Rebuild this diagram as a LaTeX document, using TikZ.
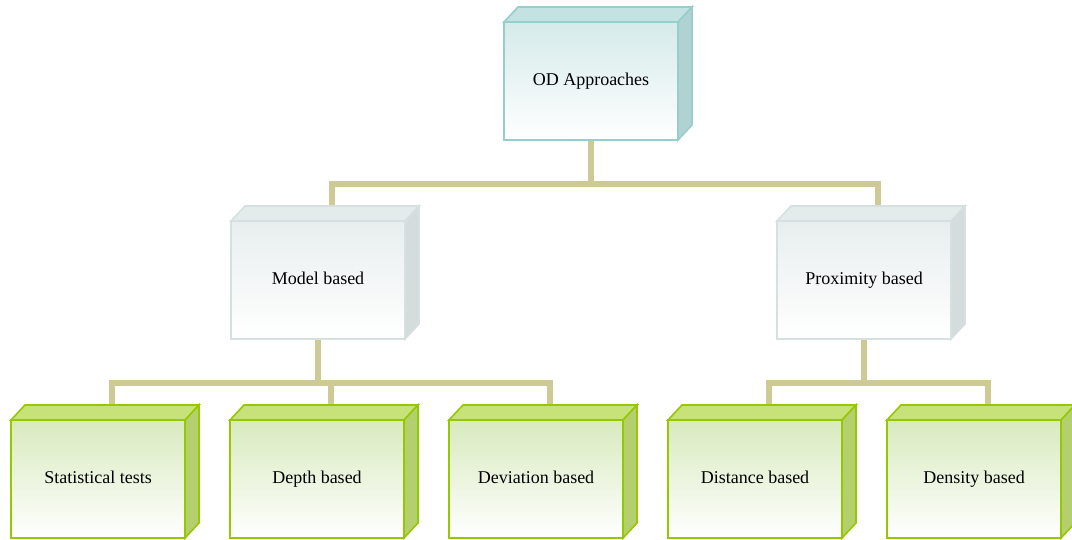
\documentclass[tikz,border=0pt]{standalone}
\usepackage{fontspec}
\setmainfont{Liberation Serif}
\usetikzlibrary{positioning,calc,backgrounds}
\definecolor{tealline}{RGB}{150,205,205}
\definecolor{tealtop}{RGB}{196,226,226}
\definecolor{tealside}{RGB}{176,210,208}
\definecolor{tealfront}{RGB}{213,234,234}
\definecolor{greyline}{RGB}{214,224,224}
\definecolor{greytop}{RGB}{228,235,235}
\definecolor{greyside}{RGB}{212,220,220}
\definecolor{greyfront}{RGB}{232,238,238}
\definecolor{greenline}{RGB}{150,200,0}
\definecolor{greentop}{RGB}{198,226,120}
\definecolor{greenside}{RGB}{180,208,110}
\definecolor{greenfront}{RGB}{216,234,190}
\definecolor{linkcol}{RGB}{205,202,150}
\tikzset{
    every picture/.style={line join=miter},
    facebox/.style={minimum width=174pt,minimum height=118pt,inner sep=0pt,
      outer sep=0pt,align=center,font=\fontsize{18}{22}\selectfont,
      text height=13pt,text depth=3pt,bottom color=white},
    tealbox/.style={facebox,draw=tealline,line width=1.5pt,top color=tealfront},
    greybox/.style={facebox,draw=greyline,line width=1.5pt,top color=greyfront},
    greenbox/.style={facebox,draw=greenline,line width=2pt,top color=greenfront},
    link/.style={draw=linkcol,line width=5.5pt,line cap=rect}
}
\begin{document}
\begin{tikzpicture}[x=1pt,y=1pt]
  \useasboundingbox (0,0) rectangle (1072,540);
  \node[tealbox] (od) at (591,459) {OD Approaches};

  \node[greybox,below left=81pt and 99pt of od] (model) {Model based};
  \node[greybox,below right=81pt and 99pt of od] (prox) {Proximity based};

  \node[greenbox,below left=81pt and 46pt of model] (stat) {Statistical tests};
  \node[greenbox,right=45pt of stat] (depth) {Depth based};
  \node[greenbox,right=45pt of depth] (dev) {Deviation based};
  \node[greenbox,right=45pt of dev] (dist) {Distance based};
  \node[greenbox,right=45pt of dist] (dens) {Density based};

  % top and side faces of each box
  \foreach \n/\k in {od/teal,model/grey,prox/grey,stat/green,depth/green,
                     dev/green,dist/green,dens/green}{
    \draw[fill=\k top,draw=\k line,line width=1.6pt]
      (\n.north west) -- ++(14,15) -- ($(\n.north east)+(14,15)$)
      -- (\n.north east) -- cycle;
    \draw[fill=\k side,draw=\k line,line width=1.6pt]
      (\n.north east) -- ++(14,15) -- ($(\n.south east)+(14,15)$)
      -- (\n.south east) -- cycle;
    \coordinate (\n-back) at ($(\n.north)+(14,15)$);
  }

  \begin{scope}[on background layer]
    \draw[link] (od.south) -- ++(0,-44) -| (model-back);
    \draw[link] (od.south) -- ++(0,-44) -| (prox-back);
    \foreach \c in {stat,depth,dev}
      \draw[link] (model.south) -- ++(0,-44) -| (\c-back);
    \foreach \c in {dist,dens}
      \draw[link] (prox.south) -- ++(0,-44) -| (\c-back);
  \end{scope}
\end{tikzpicture}
\end{document}
